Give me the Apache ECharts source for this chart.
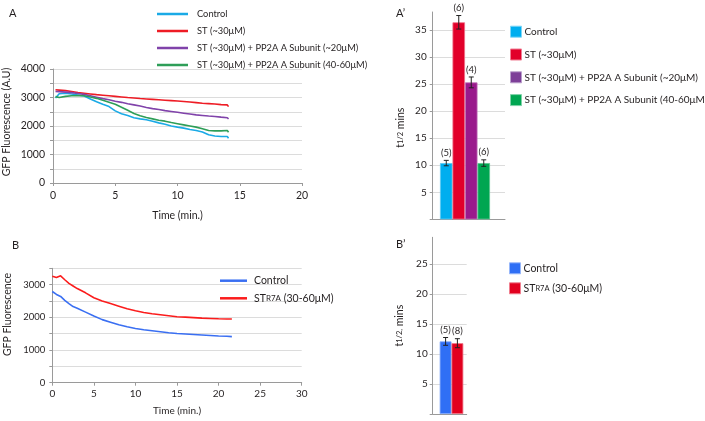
<!DOCTYPE html>
<html><head><meta charset="utf-8">
<script src="https://cdn.jsdelivr.net/npm/echarts@6.0.0/dist/echarts.min.js"></script>
<style>html,body{margin:0;padding:0;background:#fff}#c{width:705px;height:421px}</style>
</head><body><div id="c"></div>
<script>
// ---------- Panel A (time course) ----------
const timeA = [0.2,0.5,1,1.5,2,2.5,3,3.5,4,4.5,5,5.5,6,6.5,7,7.5,8,8.5,9,9.5,10,10.5,11,11.5,12,12.5,13,13.5,14,14.1];
const controlA = [2980,3130,3150,3120,3090,3050,2950,2850,2760,2680,2530,2430,2370,2290,2250,2220,2170,2110,2060,2000,1960,1925,1880,1840,1790,1690,1650,1630,1630,1570];
const stA      = [3270,3260,3240,3210,3170,3150,3125,3100,3080,3060,3040,3020,3000,2985,2965,2950,2935,2920,2905,2890,2875,2860,2840,2820,2800,2785,2770,2750,2740,2680];
const pp20A    = [3210,3205,3190,3170,3140,3110,3060,3010,2960,2920,2870,2830,2780,2740,2700,2650,2610,2580,2540,2510,2480,2450,2420,2390,2370,2350,2335,2310,2290,2250];
const pp40A    = [3030,3000,3040,3060,3070,3060,3020,2970,2900,2830,2760,2660,2550,2440,2360,2300,2250,2200,2170,2120,2080,2040,2000,1960,1900,1840,1830,1830,1840,1780];
// ---------- Panel A' (half-times) ----------
const halfA = [10.4, 36.4, 25.3, 10.4];
const errA  = [0.5, 1.25, 1.0, 0.6];
const nA    = [5, 6, 4, 6];
// ---------- Panel B (time course) ----------
const timeB = [0,0.5,1,1.5,2,2.5,3,4,5,6,7,8,9,10,11,12,13,14,15,16,17,18,19,20,21,21.6];
const controlB = [2790,2700,2640,2520,2420,2330,2280,2160,2040,1930,1850,1770,1710,1660,1620,1590,1560,1530,1505,1490,1475,1460,1445,1430,1420,1410];
const r7aB     = [3260,3220,3270,3150,3040,2960,2880,2750,2600,2500,2420,2340,2260,2200,2150,2110,2080,2050,2020,2005,1990,1975,1965,1955,1950,1950];
// ---------- Panel B' (half-times) ----------
const halfB = [12.1, 11.8];
const errB  = [0.65, 0.75];
const nB    = [5, 8];
// ---------- labels ----------
const LBL = {
  aCtrl:'Control', aST:'ST (~30μM)', aP20:'ST (~30μM) + PP2A A Subunit (~20μM)', aP40:'ST (~30μM) + PP2A A Subunit (40-60μM)',
  apCtrl:'Control', apST:'ST (~30μM)', apP20:'ST (~30μM) + PP2A A Subunit (~20μM)', apP40:'ST (~30μM) + PP2A A Subunit (40-60μM)',
  bCtrl:'Control', bR7A:'ST{s|R7A} (30-60μM)', bpCtrl:'Control', bpR7A:'ST{s|R7A} (30-60μM)'
};

const FONT = 'Lato';
const TXT = '#231f20';
const AX = '#9a9a9a';
const GRID = '#dcdcdc';

const pairs = (xs, ys) => xs.map((x, i) => [x, ys[i]]);

// bar layout constants
const BW_A = 12.5, PAD_A = 7.7;
const GROUP_A = BW_A * 4 + PAD_A;
const offA = i => -GROUP_A / 2 + BW_A * i + BW_A / 2;
const BW_B = 11.8, PAD_B = 3.6;
const GROUP_B = BW_B * 2 + PAD_B;
const offB = i => -GROUP_B / 2 + PAD_B + BW_B * i + BW_B / 2;

function errRenderer(offFn) {
  return function (params, api) {
    const i = api.value(3);
    const v = api.value(1), e = api.value(2);
    const top = api.coord([0, v + e]);
    const bot = api.coord([0, v - e]);
    const x = top[0] + offFn(i);
    const cap = 2.5;
    return { type: 'group', children: [
      { type: 'line', shape: { x1: x, y1: top[1], x2: x, y2: bot[1] }, style: { stroke: '#222', lineWidth: 1 } },
      { type: 'line', shape: { x1: x - cap, y1: top[1], x2: x + cap, y2: top[1] }, style: { stroke: '#222', lineWidth: 1 } },
      { type: 'line', shape: { x1: x - cap, y1: bot[1], x2: x + cap, y2: bot[1] }, style: { stroke: '#222', lineWidth: 1 } },
      { type: 'text', style: { text: '(' + api.value(4) + ')', x: x, y: top[1] - 2.5, align: 'center', verticalAlign: 'bottom',
        textAlign: 'center', textVerticalAlign: 'bottom', fontSize: 9.5, fontFamily: FONT, fill: TXT } }
    ] };
  };
}

const valAxisCommon = {
  type: 'value',
  axisLine: { show: true, lineStyle: { color: AX, width: 1 } },
  axisTick: { show: true, length: 3, lineStyle: { color: AX } },
  splitLine: { show: true, lineStyle: { color: GRID, width: 1 } },
  nameMoveOverlap: false
};

const chart = echarts.init(document.getElementById('c'), null, { renderer: 'canvas' });
const option = {
  backgroundColor: '#fff',
  animation: false,
  textStyle: { fontFamily: FONT, color: TXT },
  title: [
    { text: 'A', left: 9, top: 8, padding: 0, textStyle: { fontSize: 11, fontWeight: 'normal', fontFamily: FONT, color: TXT } },
    { text: 'A’', left: 396, top: 8, padding: 0, textStyle: { fontSize: 11, fontWeight: 'normal', fontFamily: FONT, color: TXT } },
    { text: 'B', left: 12, top: 240, padding: 0, textStyle: { fontSize: 11, fontWeight: 'normal', fontFamily: FONT, color: TXT } },
    { text: 'B’', left: 396, top: 239, padding: 0, textStyle: { fontSize: 11, fontWeight: 'normal', fontFamily: FONT, color: TXT } }
  ],
  grid: [
    { left: 53, right: 403, top: 69, bottom: 238, outerBoundsMode: 'none', containLabel: false },
    { left: 432.7, right: 200, top: 12, bottom: 201.6, outerBoundsMode: 'none', containLabel: false },
    { left: 52.3, right: 403.3, top: 268.3, bottom: 38.3, outerBoundsMode: 'none', containLabel: false },
    { left: 432.7, right: 238.3, top: 237.3, bottom: 7, outerBoundsMode: 'none', containLabel: false }
  ],
  xAxis: [
    { type: 'value', gridIndex: 0, min: 0, max: 20, interval: 5,
      name: 'Time (min.)', nameLocation: 'middle', nameGap: 27, nameMoveOverlap: false,
      nameTextStyle: { fontSize: 10.5, fontFamily: FONT, color: TXT },
      axisLine: { show: true, onZero: false, lineStyle: { color: AX } },
      axisTick: { show: true, length: 3, lineStyle: { color: AX } },
      splitLine: { show: false },
      axisLabel: { fontSize: 10.5, fontFamily: FONT, color: TXT, margin: 7 } },
    { type: 'category', gridIndex: 1, data: [''],
      axisLine: { show: true, lineStyle: { color: AX } }, axisTick: { show: false }, axisLabel: { show: false } },
    { type: 'value', gridIndex: 2, min: 0, max: 30, interval: 5,
      name: 'Time (min.)', nameLocation: 'middle', nameGap: 23, nameMoveOverlap: false,
      nameTextStyle: { fontSize: 10, fontFamily: FONT, color: TXT },
      axisLine: { show: true, onZero: false, lineStyle: { color: AX } },
      axisTick: { show: true, length: 3, lineStyle: { color: AX } },
      splitLine: { show: false },
      axisLabel: { fontSize: 10, fontFamily: FONT, color: TXT, margin: 6 } },
    { type: 'category', gridIndex: 3, data: [''],
      axisLine: { show: true, lineStyle: { color: AX } }, axisTick: { show: false }, axisLabel: { show: false } }
  ],
  yAxis: [
    Object.assign({}, valAxisCommon, { gridIndex: 0, min: 0, max: 4000, interval: 500,
      name: 'GFP Fluorescence (A.U)', nameLocation: 'middle', nameRotate: 90, nameGap: 41,
      nameTextStyle: { fontSize: 10.5, fontFamily: FONT, color: TXT, padding: [0, 0, 0, 8] },
      axisLabel: { fontSize: 10.5, fontFamily: FONT, color: TXT, margin: 8, formatter: v => (v % 1000 === 0 ? String(v) : '') } }),
    Object.assign({}, valAxisCommon, { gridIndex: 1, min: 0, max: 38.3, interval: 5,
      name: 't{s|1/2} mins', nameLocation: 'middle', nameRotate: 90, nameGap: 27,
      nameTextStyle: { fontSize: 10.5, fontFamily: FONT, color: TXT, padding: [0, 24, 0, 0],
        rich: { s: { fontSize: 7.5, fontFamily: FONT, color: TXT } } },
      splitLine: { show: true, showMaxLine: false, showMinLine: false, lineStyle: { color: GRID, width: 1 } },
      axisLabel: { fontSize: 10, fontFamily: FONT, color: TXT, margin: 6, showMaxLabel: false, formatter: v => (v === 0 ? '' : String(v)) } }),
    Object.assign({}, valAxisCommon, { gridIndex: 2, min: 0, max: 3500, interval: 500,
      name: 'GFP Fluorescence', nameLocation: 'middle', nameRotate: 90, nameGap: 39,
      nameTextStyle: { fontSize: 10.5, fontFamily: FONT, color: TXT, padding: [0, 0, 0, 22] },
      axisLabel: { fontSize: 9.5, fontFamily: FONT, color: TXT, margin: 7, formatter: v => (v % 1000 === 0 ? String(v) : '') } }),
    Object.assign({}, valAxisCommon, { gridIndex: 3, min: 0, max: 29.45, interval: 5,
      name: 't{s|1/2,} mins', nameLocation: 'middle', nameRotate: 90, nameGap: 28,
      nameTextStyle: { fontSize: 10.5, fontFamily: FONT, color: TXT,
        rich: { s: { fontSize: 7.5, fontFamily: FONT, color: TXT } } },
      splitLine: { show: true, showMaxLine: false, showMinLine: false, lineStyle: { color: GRID, width: 1 } },
      axisLabel: { fontSize: 10, fontFamily: FONT, color: TXT, margin: 5, showMaxLabel: false, formatter: v => (v === 0 ? '' : String(v)) } })
  ],
  legend: [
    { data: ['aCtrl', 'aST', 'aP20', 'aP40'], orient: 'vertical', left: 152, top: 2, icon: 'rect',
      itemWidth: 31, itemHeight: 2.5, itemGap: 3, formatter: n => LBL[n],
      textStyle: { fontSize: 9.3, fontFamily: FONT, color: TXT, lineHeight: 14, padding: [0, 0, 0, 4] } },
    { data: [
        { name: 'apCtrl', itemStyle: { color: '#00aeef', borderColor: '#7fd6f7', borderWidth: 1 } },
        { name: 'apST', itemStyle: { color: '#e2002a', borderColor: '#f07f94', borderWidth: 1 } },
        { name: 'apP20', itemStyle: { color: '#7d3f98', borderColor: '#b99fcb', borderWidth: 1 } },
        { name: 'apP40', itemStyle: { color: '#00a651', borderColor: '#7fd2a8', borderWidth: 1 } } ],
      orient: 'vertical', left: 505, top: 19.7, icon: 'rect', itemWidth: 11, itemHeight: 11, itemGap: 8.8,
      formatter: n => LBL[n], textStyle: { fontSize: 10, fontFamily: FONT, color: TXT, lineHeight: 14, padding: [0, 0, 0, -2] } },
    { data: ['bCtrl', 'bR7A'], orient: 'vertical', left: 215, top: 268.7, icon: 'rect',
      itemWidth: 27, itemHeight: 2.5, itemGap: 3.6, formatter: n => LBL[n],
      textStyle: { fontSize: 10.5, fontFamily: FONT, color: TXT, lineHeight: 14, padding: [0, 0, 0, 2],
        rich: { s: { fontSize: 8, fontFamily: FONT, color: TXT } } } },
    { data: [
        { name: 'bpCtrl', itemStyle: { color: '#2f6ff5', borderColor: '#97b7fa', borderWidth: 1 } },
        { name: 'bpR7A', itemStyle: { color: '#e2001f', borderColor: '#f07f8f', borderWidth: 1 } } ],
      orient: 'vertical', left: 504, top: 256.3, icon: 'rect', itemWidth: 11, itemHeight: 11, itemGap: 6,
      formatter: n => LBL[n], textStyle: { fontSize: 10.5, fontFamily: FONT, color: TXT, lineHeight: 14, padding: [0, 0, 0, -2],
        rich: { s: { fontSize: 7.5, fontFamily: FONT, color: TXT } } } }
  ],
  series: [
    // Panel A lines
    { name: 'aCtrl', type: 'line', xAxisIndex: 0, yAxisIndex: 0, data: pairs(timeA, controlA), showSymbol: false, symbol: 'none', color: '#1aaae6', lineStyle: { width: 1.6 } },
    { name: 'aST', type: 'line', xAxisIndex: 0, yAxisIndex: 0, data: pairs(timeA, stA), showSymbol: false, symbol: 'none', color: '#ee1c25', lineStyle: { width: 1.6 } },
    { name: 'aP20', type: 'line', xAxisIndex: 0, yAxisIndex: 0, data: pairs(timeA, pp20A), showSymbol: false, symbol: 'none', color: '#8043aa', lineStyle: { width: 1.6 } },
    { name: 'aP40', type: 'line', xAxisIndex: 0, yAxisIndex: 0, data: pairs(timeA, pp40A), showSymbol: false, symbol: 'none', color: '#2e9e58', lineStyle: { width: 1.6 } },
    // Panel A' bars
    { name: 'apCtrl', type: 'bar', xAxisIndex: 1, yAxisIndex: 1, data: [halfA[0]], barWidth: BW_A, barGap: '0%', color: '#00aeef', itemStyle: { borderColor: '#5cc9f3', borderWidth: 0.8 } },
    { name: 'apST', type: 'bar', xAxisIndex: 1, yAxisIndex: 1, data: [halfA[1]], barWidth: BW_A, barGap: '0%', color: '#e2002a', itemStyle: { borderColor: '#ef6f85', borderWidth: 0.8 } },
    { name: 'apP20', type: 'bar', xAxisIndex: 1, yAxisIndex: 1, data: [halfA[2]], barWidth: BW_A, barGap: '0%', color: '#9a1a8c', itemStyle: { borderColor: '#c070b8', borderWidth: 0.8 } },
    { name: 'apP40', type: 'bar', xAxisIndex: 1, yAxisIndex: 1, data: [halfA[3]], barWidth: BW_A, barGap: '0%', color: '#00a651', itemStyle: { borderColor: '#5cc48f', borderWidth: 0.8 } },
    { name: 'apPad', type: 'bar', xAxisIndex: 1, yAxisIndex: 1, data: [], barWidth: PAD_A, barGap: '0%' },
    { name: 'apErr', type: 'custom', xAxisIndex: 1, yAxisIndex: 1, renderItem: errRenderer(offA), z: 5,
      data: halfA.map((v, i) => [0, v, errA[i], i, nA[i]]) },
    // Panel B lines
    { name: 'bCtrl', type: 'line', xAxisIndex: 2, yAxisIndex: 2, data: pairs(timeB, controlB), showSymbol: false, symbol: 'none', color: '#3a6ff2', lineStyle: { width: 1.6 } },
    { name: 'bR7A', type: 'line', xAxisIndex: 2, yAxisIndex: 2, data: pairs(timeB, r7aB), showSymbol: false, symbol: 'none', color: '#fb1c1c', lineStyle: { width: 1.6 } },
    // Panel B' bars
    { name: 'bpPad', type: 'bar', xAxisIndex: 3, yAxisIndex: 3, data: [], barWidth: PAD_B, barGap: '0%' },
    { name: 'bpCtrl', type: 'bar', xAxisIndex: 3, yAxisIndex: 3, data: [halfB[0]], barWidth: BW_B, barGap: '0%', color: '#2f6ff5', itemStyle: { borderColor: '#7ea6f9', borderWidth: 0.8 } },
    { name: 'bpR7A', type: 'bar', xAxisIndex: 3, yAxisIndex: 3, data: [halfB[1]], barWidth: BW_B, barGap: '0%', color: '#e2001f', itemStyle: { borderColor: '#ef6f80', borderWidth: 0.8 } },
    { name: 'bpErr', type: 'custom', xAxisIndex: 3, yAxisIndex: 3, renderItem: errRenderer(offB), z: 5,
      data: halfB.map((v, i) => [0, v, errB[i], i, nB[i]]) }
  ]
};
chart.setOption(option);
</script>
</body></html>
